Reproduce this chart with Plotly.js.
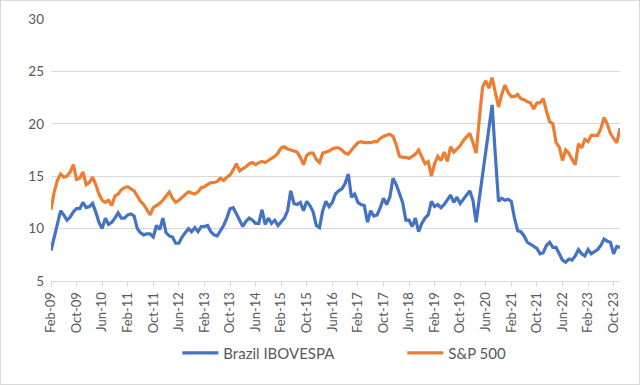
<!DOCTYPE html>
<html>
<head>
<meta charset="utf-8">
<script src="https://cdn.plot.ly/plotly-3.0.1.min.js"></script>
<style>
html,body{margin:0;padding:0;background:#fff;}
#wrap{position:relative;width:640px;height:385px;}
#chart{width:640px;height:385px;}
#frame{position:absolute;left:0;top:0;width:638px;height:383px;border:1px solid #d9d9d9;pointer-events:none;}
</style>
</head>
<body>
<div id="wrap"><div id="chart"></div><div id="frame"></div></div>
<script>
// Monthly series, Feb-09 .. Dec-23
const startYear = 2009, startMonth = 1; // Feb (0-based)
const ibovespa = [
 7.9, 9.2,10.6,11.7,11.3,10.8,11.1,11.6,11.9,11.9,
12.5,12.0,12.1,12.4,11.6,10.6,10.0,11.0,10.4,10.6,
11.0,11.5,11.0,11.0,11.3,11.4,11.2,10.0, 9.6, 9.4,
 9.5, 9.5, 9.2,10.3, 9.9,11.0, 9.6, 9.3, 9.2, 8.6,
 8.6, 9.2, 9.6,10.0, 9.7,10.1, 9.7,10.2,10.2,10.3,
 9.7, 9.4, 9.3, 9.8,10.3,11.0,11.9,12.0,11.4,10.8,
10.2,10.7,11.0,10.8,10.5,10.5,11.8,10.4,11.0,10.5,
10.8,10.3,10.6,11.0,11.7,13.6,12.4,12.3,12.5,11.7,
12.6,12.2,11.6,10.3,10.1,11.7,12.6,12.1,12.5,13.3,
13.6,13.8,14.3,15.2,13.0,13.3,12.5,12.3,12.2,10.6,
11.7,11.2,11.3,12.0,12.9,12.3,13.0,14.8,14.2,13.3,
12.5,10.8,10.8,10.2,11.0, 9.7,10.5,11.0,11.3,12.6,
12.1,12.3,12.0,12.3,12.7,13.2,12.5,13.0,12.4,12.8,
13.1,13.6,12.7,10.6,12.9,15.1,17.3,19.5,21.8,17.0,
12.6,12.9,12.7,12.8,12.6,11.0, 9.8, 9.7, 9.3, 8.7,
 8.5, 8.3, 8.1, 7.6, 7.7, 8.4, 8.7, 8.2, 8.2, 7.6,
 7.0, 6.8, 7.1, 7.0, 7.4, 8.0, 7.6, 7.4, 8.0, 7.6,
 7.8, 8.0, 8.4, 9.0, 8.8, 8.7, 7.6, 8.3, 8.2
];
const sp500 = [
11.8,13.5,14.6,15.2,14.9,15.0,15.4,16.1,14.7,14.8,
15.4,14.2,14.4,14.9,14.2,13.3,12.7,12.5,12.7,12.2,
13.1,13.3,13.7,13.9,14.0,13.8,13.6,13.1,12.6,12.3,
11.8,11.3,12.0,12.2,12.4,12.7,13.1,13.5,12.9,12.5,
12.7,13.0,13.2,13.5,13.4,13.3,13.5,13.9,14.0,14.2,
14.4,14.4,14.5,14.8,14.6,14.9,15.1,15.6,16.2,15.5,
15.7,15.9,16.2,16.3,16.1,16.3,16.4,16.3,16.5,16.7,
16.9,17.2,17.7,17.8,17.6,17.5,17.4,17.3,16.8,16.1,
17.0,17.2,17.2,16.6,16.3,17.2,17.3,17.4,17.6,17.7,
17.7,17.5,17.2,17.1,17.5,17.8,18.2,18.3,18.2,18.2,
18.2,18.3,18.3,18.6,18.8,18.9,19.0,18.8,18.0,16.9,
16.8,16.8,16.7,16.9,17.1,17.5,16.8,16.2,16.4,15.0,
16.2,16.9,16.5,17.3,16.4,17.8,17.3,17.6,17.9,18.4,
18.8,19.1,18.2,17.2,20.5,23.5,24.1,23.4,24.4,23.0,
21.6,22.8,23.7,23.0,22.6,22.6,22.8,22.4,22.3,22.1,
22.0,21.4,22.0,22.0,22.4,21.2,20.2,20.0,18.2,17.8,
16.5,17.5,17.2,16.6,16.1,18.1,17.7,18.5,18.3,18.9,
18.9,18.9,19.5,20.6,20.0,19.1,18.6,18.2,19.6
];
const tickLabels = ["Feb-09","Oct-09","Jun-10","Feb-11","Oct-11","Jun-12","Feb-13","Oct-13",
 "Jun-14","Feb-15","Oct-15","Jun-16","Feb-17","Oct-17","Jun-18","Feb-19","Oct-19",
 "Jun-20","Feb-21","Oct-21","Jun-22","Feb-23","Oct-23"];
const monthNames = ["Jan","Feb","Mar","Apr","May","Jun","Jul","Aug","Sep","Oct","Nov","Dec"];
const months = [];
for (let i = 0; i < ibovespa.length; i++) {
  const t = startMonth + i;
  const y = startYear + Math.floor(t / 12);
  months.push(monthNames[t % 12] + "-" + String(y % 100).padStart(2, "0"));
}

const font = "Lato, 'Open Sans', 'Liberation Sans', sans-serif";
const traces = [
  {x: months, y: ibovespa, type: "scatter", mode: "lines", name: "Brazil IBOVESPA",
   line: {color: "#4472C4", width: 3.2, shape: "linear"}},
  {x: months, y: sp500, type: "scatter", mode: "lines", name: "S&P 500",
   line: {color: "#ED7D31", width: 3.2, shape: "linear"}}
];
const layout = {
  width: 640, height: 385,
  margin: {l: 51, r: 20, t: 19, b: 104},
  paper_bgcolor: "#ffffff", plot_bgcolor: "#ffffff",
  font: {family: font, color: "#595959", size: 13},
  showlegend: true,
  legend: {orientation: "h", x: 0.222, xanchor: "left", y: -0.275, yanchor: "middle",
           font: {size: 15, color: "#595959"}, itemwidth: 36, tracegroupgap: 0,
           entrywidth: 174, entrywidthmode: "pixels"},
  xaxis: {type: "category", range: [0, months.length - 1], tickmode: "array",
          tickvals: tickLabels, ticktext: tickLabels, tickangle: -90,
          showgrid: false, showline: true, linecolor: "#d9d9d9", linewidth: 1,
          ticks: "outside", ticklen: 5, tickcolor: "#d9d9d9",
          tickfont: {size: 13, color: "#595959"}, zeroline: false, fixedrange: true},
  yaxis: {range: [5, 30], tickmode: "linear", tick0: 5, dtick: 5,
          showgrid: true, gridcolor: "#d9d9d9", gridwidth: 1, zeroline: false,
          showline: false, ticks: "", tickfont: {size: 13.5, color: "#595959"},
          ticklabelstandoff: 6, fixedrange: true}
};
Plotly.newPlot("chart", traces, layout, {displayModeBar: false, staticPlot: true});
</script>
</body>
</html>
